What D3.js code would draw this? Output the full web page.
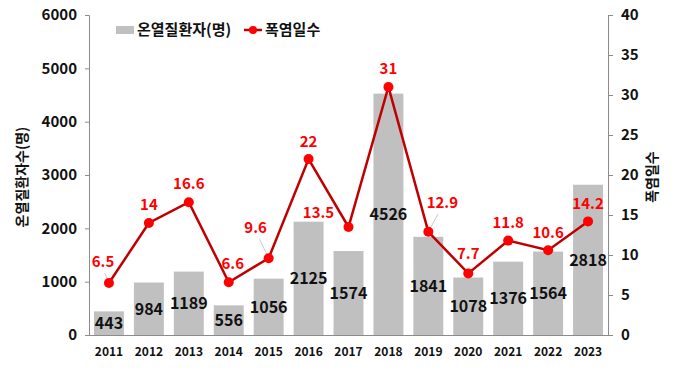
<!DOCTYPE html>
<html>
  <head>
    <meta charset="utf-8">
    <script src="https://d3js.org/d3.v7.min.js"></script>
    <style>
      body { margin: 0; background: #fff; }
      text { font-family: "Noto Sans CJK KR", "Noto Sans", sans-serif; font-weight: bold; }
      .domain { stroke: #8c8c8c; }
      .tick line { stroke: #8c8c8c; }
      .tick text { fill: #111; font-size: 14px; }
    </style>
  </head>
  <body>
    <svg id="chart" width="680" height="388"></svg>
    <script>
      var years = ["2011","2012","2013","2014","2015","2016","2017","2018","2019","2020","2021","2022","2023"];
      var patients = [443, 984, 1189, 556, 1056, 2125, 1574, 4526, 1841, 1078, 1376, 1564, 2818];
      var heatDays = [6.5, 14, 16.6, 6.6, 9.6, 22, 13.5, 31, 12.9, 7.7, 11.8, 10.6, 14.2];
      var leftTicks = [0, 1000, 2000, 3000, 4000, 5000, 6000];
      var rightTicks = [0, 5, 10, 15, 20, 25, 30, 35, 40];

      // label nudges for the red numbers (dx, dy from the point)
      var nudge = [[-6,-16],[0,-13],[0,-13],[4,-13],[-13,-25],[0,-12],[-30,-9],[0,-13],[14,-24],[0,-14],[0,-13],[0,-12],[0,-12]];
      var leaders = { "2011": true, "2015": true, "2019": true };

      var svg = d3.select("#chart");
      var mLeft = 89, mRight = 608, mTop = 15, mBottom = 335;

      var x = d3.scaleBand().domain(years).range([mLeft, mRight]).paddingInner(0.25).paddingOuter(0.125);
      var yL = d3.scaleLinear().domain([0, 6000]).range([mBottom, mTop]);
      var yR = d3.scaleLinear().domain([0, 40]).range([mBottom, mTop]);
      var cx = d => x(d) + x.bandwidth() / 2;

      // bars
      svg.selectAll("rect.bar").data(years).enter().append("rect")
        .attr("class", "bar")
        .attr("x", d => x(d))
        .attr("width", x.bandwidth())
        .attr("y", (d, i) => yL(patients[i]))
        .attr("height", (d, i) => yL(0) - yL(patients[i]))
        .attr("fill", "#c0c0c0");

      // axes
      svg.append("g").attr("transform", "translate(" + mLeft + ",0)")
        .call(d3.axisLeft(yL).tickValues(leftTicks).tickSize(4).tickPadding(8).tickFormat(d3.format("d")))
        .selectAll(".tick text").style("font-size", "15px");
      svg.append("g").attr("transform", "translate(" + mRight + ",0)")
        .call(d3.axisRight(yR).tickValues(rightTicks).tickSize(5).tickPadding(8))
        .selectAll(".tick text").style("font-size", "15px");
      var xa = svg.append("g").attr("transform", "translate(0," + mBottom + ")")
        .call(d3.axisBottom(x).tickSize(0).tickPadding(12).tickSizeOuter(0));
      xa.selectAll(".tick text").style("font-size", "12px");
      xa.select(".domain").attr("d", "M" + mLeft + ",0.5H" + mRight);

      // bar value labels
      svg.selectAll("text.blab").data(years).enter().append("text")
        .attr("class", "blab")
        .attr("x", d => cx(d))
        .attr("y", (d, i) => (yL(patients[i]) + yL(0)) / 2)
        .attr("dy", "0.36em")
        .attr("text-anchor", "middle")
        .style("font-size", "16px")
        .attr("fill", "#111")
        .text((d, i) => patients[i]);

      // line
      var line = d3.line().x(d => cx(d)).y((d, i) => yR(heatDays[i]));
      svg.append("path").attr("d", line(years))
        .attr("fill", "none").attr("stroke", "#c00000").attr("stroke-width", 2.5);

      // leader lines
      svg.selectAll("line.lead").data(years.filter(d => leaders[d])).enter().append("line")
        .attr("class", "lead")
        .attr("x1", d => cx(d))
        .attr("y1", d => yR(heatDays[years.indexOf(d)]))
        .attr("x2", d => cx(d) + nudge[years.indexOf(d)][0] * 0.7)
        .attr("y2", d => yR(heatDays[years.indexOf(d)]) + nudge[years.indexOf(d)][1] + 6)
        .attr("stroke", "#bbb").attr("stroke-width", 0.8);

      svg.selectAll("circle.pt").data(years).enter().append("circle")
        .attr("class", "pt")
        .attr("cx", d => cx(d))
        .attr("cy", (d, i) => yR(heatDays[i]))
        .attr("r", 5)
        .attr("fill", "#ff0000");

      svg.selectAll("text.llab").data(years).enter().append("text")
        .attr("class", "llab")
        .attr("x", (d, i) => cx(d) + nudge[i][0])
        .attr("y", (d, i) => yR(heatDays[i]) + nudge[i][1])
        .attr("text-anchor", "middle")
        .style("font-size", "15px")
        .attr("fill", "#ff0000")
        .text((d, i) => heatDays[i]);

      // axis titles
      svg.append("text")
        .attr("transform", "translate(27,177) rotate(-90)")
        .attr("text-anchor", "middle")
        .style("font-size", "14px")
        .attr("fill", "#111")
        .text("온열질환자수(명)");
      svg.append("text")
        .attr("transform", "translate(657,177) rotate(-90)")
        .attr("text-anchor", "middle")
        .style("font-size", "14px")
        .attr("fill", "#111")
        .text("폭염일수");

      // legend
      var lg = svg.append("g").attr("transform", "translate(116,30)");
      lg.append("rect").attr("x", 0).attr("y", -4).attr("width", 18).attr("height", 8).attr("fill", "#c0c0c0");
      lg.append("text").attr("x", 21).attr("y", 0).attr("dy", "0.36em").style("font-size", "15px").attr("fill", "#111").text("온열질환자(명)");
      lg.append("line").attr("x1", 128).attr("x2", 146).attr("y1", 0).attr("y2", 0).attr("stroke", "#c00000").attr("stroke-width", 2.5);
      lg.append("circle").attr("cx", 137).attr("cy", 0).attr("r", 4).attr("fill", "#ff0000");
      lg.append("text").attr("x", 149).attr("y", 0).attr("dy", "0.36em").style("font-size", "15px").attr("fill", "#111").text("폭염일수");
    </script>
  </body>
</html>
